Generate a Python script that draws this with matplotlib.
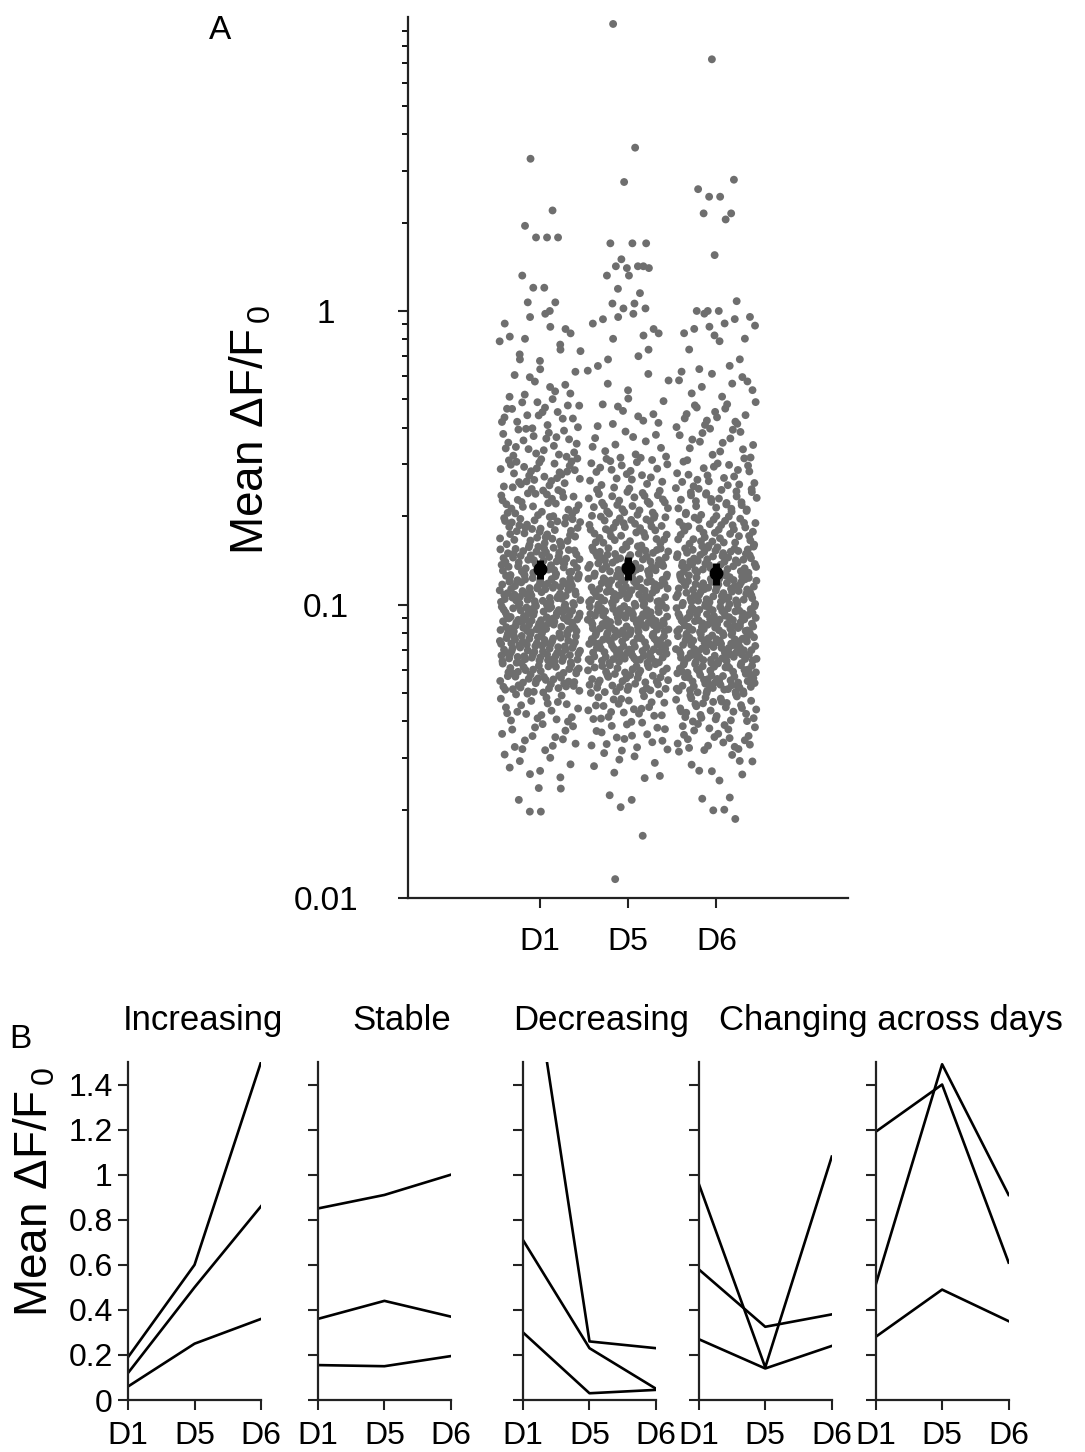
import numpy as np
import matplotlib
matplotlib.use("Agg")
import matplotlib.pyplot as plt
from matplotlib.ticker import LogLocator, NullFormatter

plt.rcParams['font.family'] = ['Liberation Sans', 'DejaVu Sans']
plt.rcParams['mathtext.fontset'] = 'custom'
plt.rcParams['mathtext.rm'] = 'Liberation Sans'
plt.rcParams['mathtext.it'] = 'Liberation Sans'

# ---- Panel A data ----
days = ['D1', 'D5', 'D6']

# counts of cells per 0.1-decade bin, from log10 = -1.6 up to 0
bin_lo = np.round(np.arange(-1.6, 0.0, 0.1), 2)
d1_counts = [8, 15, 22, 50, 70, 70, 65, 55, 40, 30, 30, 22, 20, 10, 8, 8]
d5_counts = [8, 18, 25, 45, 70, 70, 65, 55, 38, 32, 22, 12, 10, 6, 4, 8]
d6_counts = [9, 22, 35, 60, 70, 70, 65, 55, 38, 32, 22, 15, 15, 10, 5, 10]

# individual cells outside the dense range
d1_high = [3.3, 2.2, 1.95, 1.78, 1.78, 1.78, 1.32, 1.2, 1.2, 1.07, 1.07, 1.0]
d5_high = [9.5, 3.6, 2.75, 1.7, 1.7, 1.7, 1.5, 1.42, 1.42, 1.42, 1.4, 1.4,
           1.32, 1.32, 1.19, 1.15, 1.06, 1.06, 1.02, 1.02]
d6_high = [7.2, 2.8, 2.6, 2.45, 2.45, 2.15, 2.15, 2.05, 1.55, 1.08, 1.0, 1.0, 1.0]
d1_low = [0.0237, 0.0236, 0.0216, 0.0197, 0.0197]
d5_low = [0.0224, 0.0216, 0.0204, 0.0163, 0.0116]
d6_low = [0.022, 0.0218, 0.020, 0.0199, 0.0186]

mean_vals = [0.132, 0.133, 0.128]
mean_err = [0.010, 0.012, 0.011]

# ---- Panel B data ----
b_titles = ['Increasing', 'Stable', 'Decreasing']
increasing = [[0.19, 0.60, 1.50], [0.12, 0.50, 0.86], [0.06, 0.25, 0.36]]
stable = [[0.85, 0.91, 1.00], [0.36, 0.44, 0.37], [0.155, 0.15, 0.195]]
decreasing = [[2.20, 0.26, 0.23], [0.71, 0.23, 0.05], [0.30, 0.03, 0.045]]
changing_a = [[0.96, 0.145, 1.08], [0.58, 0.325, 0.38], [0.27, 0.14, 0.24]]
changing_b = [[1.19, 1.40, 0.61], [0.51, 1.49, 0.91], [0.28, 0.49, 0.35]]

GRAY = '#6e6e6e'
TICK_FS = 23
LABEL_FS = 33
YLAB = r'Mean $\Delta$F/F$_{\,0}$'


def halton(i, base):
    f, r = 1.0, 0.0
    while i > 0:
        f /= base
        r += f * (i % base)
        i //= base
    return r


def spread_cells(counts, high, low, center, shift):
    """place the read bin counts inside their bins (halton jitter)"""
    ys = []
    k = shift
    for lo, n in zip(bin_lo, counts):
        for _ in range(n):
            k += 1
            ys.append(lo + 0.1 * halton(k, 3))
    ys = list(10 ** np.array(ys)) + high + low
    xs = []
    for i in range(len(ys)):
        if i >= len(ys) - len(high) - len(low):
            # sparse cells: keep nearer the middle like the reference
            xs.append(center + 0.5 * (halton(i + shift + 7, 2) - 0.5))
        else:
            xs.append(center + 0.92 * (halton(i + shift + 1, 2) - 0.5))
    return np.array(xs), np.array(ys)


def style_axis(ax):
    for s in ['top', 'right']:
        ax.spines[s].set_visible(False)
    for s in ['left', 'bottom']:
        ax.spines[s].set_linewidth(1.6)
        ax.spines[s].set_color('#222222')
    ax.tick_params(direction='out', length=7, width=1.5, labelsize=TICK_FS,
                   color='#222222')
    ax.tick_params(which='minor', direction='out', length=4, width=1.3)


fig = plt.figure(figsize=(10.85, 14.52), dpi=100)

# ---- Panel A ----
axA = fig.add_axes([0.376, 0.3815, 0.406, 0.6065])
groups = [(d1_counts, d1_high, d1_low), (d5_counts, d5_high, d5_low),
          (d6_counts, d6_high, d6_low)]
for i, (cnt, hi, lo) in enumerate(groups):
    xs, ys = spread_cells(cnt, hi, lo, i + 1, 37 * i)
    axA.scatter(xs, ys, s=32, color=GRAY, edgecolors='none', zorder=2)
axA.errorbar([1, 2, 3], mean_vals, yerr=mean_err, fmt='o', color='black',
             markersize=9, elinewidth=5, capsize=0, zorder=3)
axA.set_yscale('log')
axA.set_ylim(0.01, 10)
axA.set_xlim(-0.5, 4.5)
axA.set_xticks([1, 2, 3])
axA.set_xticklabels(days)
axA.set_yticks([0.01, 0.1, 1])
axA.set_yticklabels(['0.01', '0.1', '1'])
axA.yaxis.set_minor_locator(LogLocator(base=10, subs=np.arange(2, 10)))
axA.yaxis.set_minor_formatter(NullFormatter())
style_axis(axA)
axA.tick_params(axis='y', labelsize=24, pad=52)
axA.tick_params(axis='x', pad=14)
for lab in axA.get_yticklabels():
    lab.set_horizontalalignment('center')
fig.text(0.231, 0.704, YLAB, rotation=90, fontsize=LABEL_FS,
         ha='center', va='center')
fig.text(0.203, 0.979, 'A', fontsize=24, ha='center', va='center')

# ---- Panel B ----
lefts = [0.118, 0.293, 0.482, 0.644, 0.807]
panels = [increasing, stable, decreasing, changing_a, changing_b]
for j, (left, lines) in enumerate(zip(lefts, panels)):
    ax = fig.add_axes([left, 0.0358, 0.1226, 0.2328])
    for vals in lines:
        ax.plot([1, 2, 3], vals, color='black', lw=1.9, clip_on=True)
    ax.set_xlim(1, 3)
    ax.set_ylim(0, 1.5)
    ax.set_xticks([1, 2, 3])
    ax.set_xticklabels(days)
    ax.set_yticks(np.round(np.arange(0, 1.41, 0.2), 1))
    if j == 0:
        ax.set_yticklabels(['0', '0.2', '0.4', '0.6', '0.8', '1', '1.2', '1.4'])
    else:
        ax.set_yticklabels([])
    style_axis(ax)
    ax.tick_params(axis='x', pad=8)
    ax.tick_params(axis='y', pad=4)

title_x = [0.187, 0.370, 0.554, 0.821]
for tx, tt in zip(title_x, b_titles + ['Changing across days']):
    fig.text(tx, 0.297, tt, fontsize=25, ha='center', va='center')
fig.text(0.032, 0.179, YLAB, rotation=90, fontsize=LABEL_FS,
         ha='center', va='center')
fig.text(0.019, 0.284, 'B', fontsize=24, ha='center', va='center')

fig.savefig('out.png', dpi=100)
